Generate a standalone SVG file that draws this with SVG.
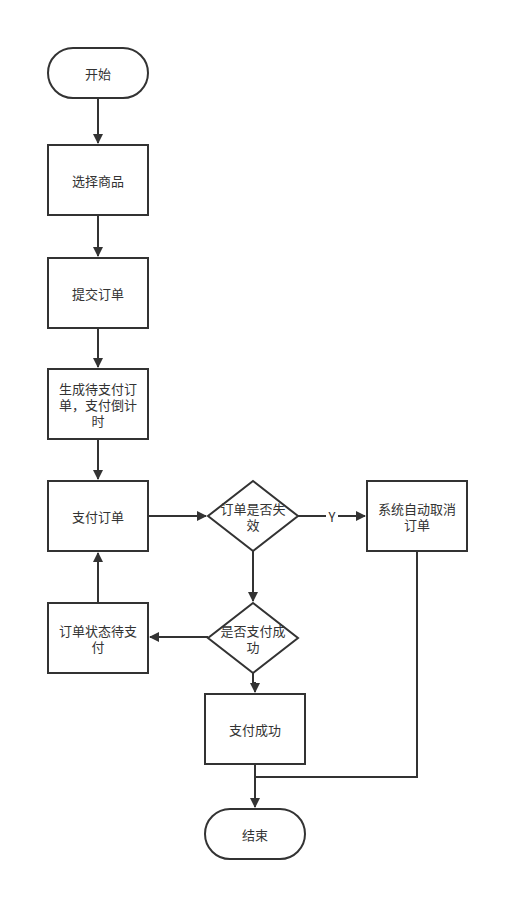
<svg xmlns="http://www.w3.org/2000/svg" width="529" height="921" viewBox="0 0 529 921">
<style>
.n{fill:#fff;stroke:#333;stroke-width:2}
.t{font-family:"Noto Sans CJK SC","Liberation Sans",sans-serif;font-size:13px;fill:#333;text-anchor:middle;dominant-baseline:central}
.c{fill:none;stroke:#333;stroke-width:2}
</style>
<defs>
<marker id="a" markerWidth="10" markerHeight="10" refX="9" refY="5" orient="auto" markerUnits="userSpaceOnUse" viewBox="0 0 10 10"><path d="M0,0 L10,5 L0,10 Z" fill="#333"/></marker>
</defs>
<rect width="529" height="921" fill="#fff"/>
<g id="connectors">
<path class="c" d="M98,98 V143" marker-end="url(#a)"/>
<path class="c" d="M98,215 V256" marker-end="url(#a)"/>
<path class="c" d="M98,328 V367" marker-end="url(#a)"/>
<path class="c" d="M98,439 V479" marker-end="url(#a)"/>
<path class="c" d="M148,516 H206" marker-end="url(#a)"/>
<path class="c" d="M298,516 H365" marker-end="url(#a)"/>
<rect x="326" y="508" width="12" height="16" fill="#fff"/>
<text class="t" x="332" y="516">Y</text>
<path class="c" d="M253,551 V601" marker-end="url(#a)"/>
<path class="c" d="M208,637 H150" marker-end="url(#a)"/>
<path class="c" d="M98,603 V553" marker-end="url(#a)"/>
<path class="c" d="M253,673 V683 H255 V692" marker-end="url(#a)"/>
<path class="c" d="M255,764 V807" marker-end="url(#a)"/>
<path class="c" d="M417,551 V777 H255"/>
</g>
<g id="start"><rect class="n" x="48" y="48" width="100" height="50" rx="25"/><text class="t" x="98" y="73">开始</text></g>
<g id="select"><rect class="n" x="48" y="145" width="100" height="70"/><text class="t" x="98" y="180">选择商品</text></g>
<g id="submit"><rect class="n" x="48" y="258" width="100" height="70"/><text class="t" x="98" y="293">提交订单</text></g>
<g id="create"><rect class="n" x="48" y="369" width="100" height="70"/><text class="t" x="98" y="388">生成待支付订</text><text class="t" x="98" y="404">单，支付倒计</text><text class="t" x="98" y="420">时</text></g>
<g id="pay"><rect class="n" x="48" y="481" width="100" height="70"/><text class="t" x="98" y="516">支付订单</text></g>
<g id="expired"><polygon class="n" points="253,481 298,516 253,551 208,516"/><text class="t" x="253" y="508">订单是否失</text><text class="t" x="253" y="524">效</text></g>
<g id="cancel"><rect class="n" x="367" y="481" width="100" height="70"/><text class="t" x="417" y="508">系统自动取消</text><text class="t" x="417" y="524">订单</text></g>
<g id="success_q"><polygon class="n" points="253,603 298,638 253,673 208,638"/><text class="t" x="253" y="630">是否支付成</text><text class="t" x="253" y="646">功</text></g>
<g id="pending"><rect class="n" x="48" y="603" width="100" height="70"/><text class="t" x="98" y="630">订单状态待支</text><text class="t" x="98" y="646">付</text></g>
<g id="success"><rect class="n" x="205" y="694" width="100" height="70"/><text class="t" x="255" y="729">支付成功</text></g>
<g id="end"><rect class="n" x="205" y="809" width="100" height="50" rx="25"/><text class="t" x="255" y="834">结束</text></g>
</svg>
